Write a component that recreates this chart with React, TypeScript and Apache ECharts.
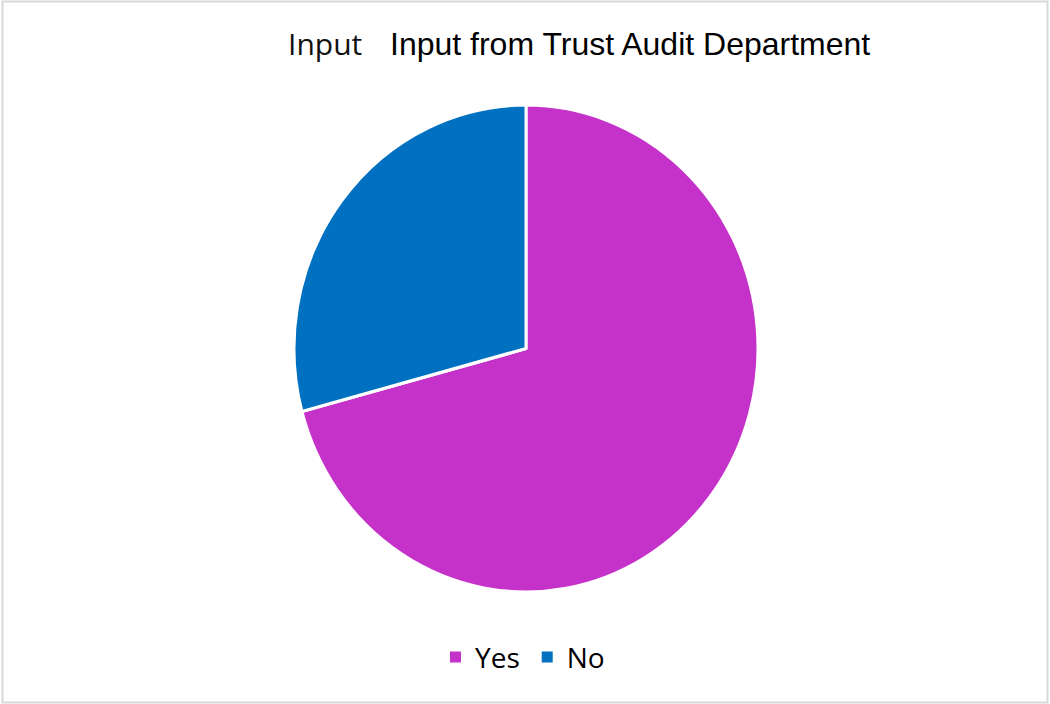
import React, { useEffect, useRef } from "react";
import * as echarts from "echarts";

const categories = ["Yes", "No"];
const values = [17, 7];
const colors = ["#C532CA", "#0070C0"];
const titleSmall = "Input";
const titleMain = "Input from Trust Audit Department";

const CX = 526;
const CY = 348.5;
const RX = 232;
const RY = 243.5;

function pieSeries() {
  return {
    type: "pie",
    center: [CX, CY],
    radius: RX,
    startAngle: 90,
    clockwise: true,
    silent: true,
    label: { show: false },
    labelLine: { show: false },
    itemStyle: { borderColor: "#ffffff", borderWidth: 3 },
    data: categories.map((c, i) => ({ name: c, value: values[i], itemStyle: { color: colors[i] } })),
  };
}

export default function App() {
  const ref = useRef<HTMLDivElement>(null);
  const pieRef = useRef<HTMLDivElement>(null);
  useEffect(() => {
    const chart = echarts.init(ref.current!, null, { renderer: "svg" });
    chart.setOption({
      animation: false,
      backgroundColor: "#ffffff",
      title: [
        {
          text: titleSmall,
          left: 283,
          top: 23,
          textStyle: { fontFamily: "Open Sans", fontSize: 30, fontWeight: "normal", color: "#111111" },
        },
        {
          text: titleMain,
          left: 385,
          top: 23,
          textStyle: { fontFamily: "Liberation Sans", fontSize: 32, fontWeight: "normal", color: "#000000" },
        },
      ],
      legend: {
        data: categories,
        bottom: 28,
        left: 443,
        icon: "rect",
        itemWidth: 13,
        itemHeight: 13,
        itemGap: 20,
        textStyle: { fontFamily: "Open Sans", fontSize: 28, color: "#000000", padding: [0, 0, 0, 8] },
      },
      graphic: [
        {
          type: "rect",
          shape: { x: 2.5, y: 1.5, width: 1045, height: 701 },
          style: { fill: "none", stroke: "#d9d9d9", lineWidth: 2 },
          silent: true,
        },
      ],
      series: [pieSeries()],
    });

    const pie = echarts.init(pieRef.current!, null, { renderer: "svg" });
    pie.setOption({
      animation: false,
      series: [pieSeries()],
    });
    return () => {
      chart.dispose();
      pie.dispose();
    };
  }, []);
  return (
    <div style={{ position: "fixed", left: 0, top: 0, width: 1050, height: 704 }}>
      <div ref={ref} style={{ position: "absolute", left: 0, top: 0, width: 1050, height: 704 }} />
      <div
        ref={pieRef}
        style={{
          position: "absolute",
          left: 0,
          top: 0,
          width: 1050,
          height: 704,
          pointerEvents: "none",
          transform: `scale(1, ${RY / RX})`,
          transformOrigin: `${CX}px ${CY}px`,
        }}
      />
    </div>
  );
}
